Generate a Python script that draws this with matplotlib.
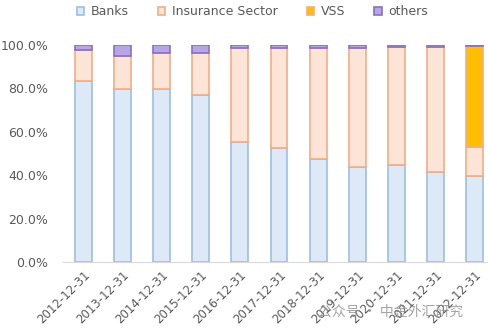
import numpy as np
import matplotlib
matplotlib.use("Agg")
import matplotlib.pyplot as plt
from matplotlib.ticker import PercentFormatter

# share of holdings by holder type, per year-end (in %)
dates = ['2012-12-31', '2013-12-31', '2014-12-31', '2015-12-31', '2016-12-31',
         '2017-12-31', '2018-12-31', '2019-12-31', '2020-12-31', '2021-12-31',
         '2022-12-31']
banks = [83.5, 79.5, 79.5, 77.0, 55.3, 52.7, 47.3, 44.0, 44.8, 41.3, 39.5]
insurance = [14.2, 15.5, 16.7, 19.2, 43.2, 45.8, 51.2, 54.8, 54.4, 57.9, 13.6]
vss = [0, 0, 0, 0, 0, 0, 0, 0, 0, 0, 46.4]
others = [2.3, 5.0, 3.8, 3.8, 1.5, 1.5, 1.5, 1.2, 0.8, 0.8, 0.5]

series = [
    ('Banks', banks, '#dde9f7', '#9dbfe3'),
    ('Insurance Sector', insurance, '#fce4d6', '#f2ad86'),
    ('VSS', vss, '#ffbf00', '#f2ad86'),
    ('others', others, '#b7a6e3', '#8a70c4'),
]

plt.rcParams['font.family'] = ['DejaVu Sans']
fig = plt.figure(figsize=(4.88, 3.32), dpi=100)
ax = fig.add_axes([63.5 / 488, 70 / 332, 431 / 488, 217 / 332])

x = np.arange(len(dates))
bottom = np.zeros(len(dates))
for name, vals, fc, ec in series:
    vals = np.array(vals)
    ax.bar(x, vals, width=0.43, bottom=bottom, color=fc, edgecolor=ec,
           linewidth=1.2, label=name)
    bottom += vals

ax.set_xlim(-0.5, len(dates) - 0.5)
ax.set_ylim(0, 100)
ax.set_yticks(np.arange(0, 101, 20))
ax.yaxis.set_major_formatter(PercentFormatter(decimals=1))
ax.set_xticks(x)
ax.set_xticklabels(dates, rotation=45, ha='right', rotation_mode='anchor')

for s in ['top', 'right', 'left']:
    ax.spines[s].set_visible(False)
ax.spines['bottom'].set_color('#d9d9d9')
ax.tick_params(axis='y', length=0, pad=11, labelsize=9, labelcolor='#595959')
ax.tick_params(axis='x', length=0, pad=5, labelsize=8.5, labelcolor='#595959')

ax.legend(loc='upper left', bbox_to_anchor=(2 / 431, 1 + 51 / 217), ncol=4,
          frameon=False, fontsize=9, handlelength=0.6, handleheight=0.6,
          handletextpad=0.5, columnspacing=2.35, labelcolor='#595959')

# watermark
fig.text(318 / 488, 1 - 312 / 332, '公众号 · 中金外汇研究', fontsize=10,
         color='#8c8c8c', alpha=0.8, va='center',
         family=['Noto Sans CJK SC', 'DejaVu Sans'])

fig.savefig('out.png', dpi=100)
